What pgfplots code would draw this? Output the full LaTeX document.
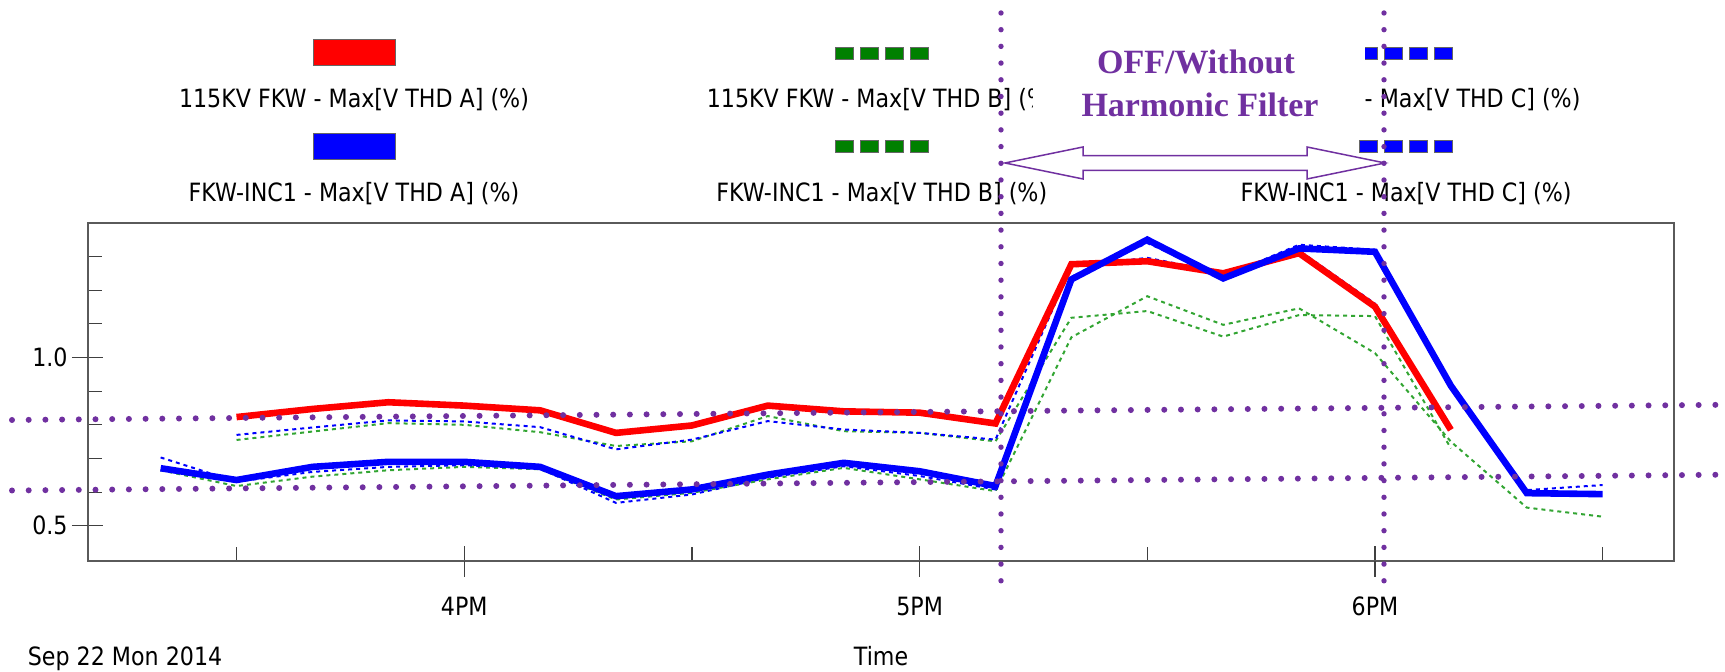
\documentclass[border=0pt]{standalone}
\usepackage{pgfplots}
\pgfplotsset{compat=1.18}
\usepackage{pgfplotstable}
\usepackage{fontspec}
\setmainfont{DejaVu Sans}[FakeStretch=0.88]
\newfontfamily\annfont{Liberation Serif}
\definecolor{annpurple}{RGB}{112,48,160}
\definecolor{dotgreen}{RGB}{50,165,50}
\definecolor{swgreen}{RGB}{0,128,0}
\definecolor{axgray}{RGB}{90,90,90}
\newcommand\lf{\fontsize{12.6}{15}\selectfont}

\pgfplotstableread{
t v
30 0.823
40 0.847
50 0.867
60 0.857
70 0.843
80 0.776
90 0.798
100 0.857
110 0.840
120 0.836
130 0.804
140 1.277
150 1.286
160 1.250
170 1.310
180 1.151
190 0.785
}\redA
\pgfplotstableread{
t v
20 0.671
30 0.636
40 0.675
50 0.690
60 0.690
70 0.675
80 0.588
90 0.608
100 0.652
110 0.687
120 0.662
130 0.618
140 1.232
150 1.350
160 1.235
170 1.324
180 1.314
190 0.916
200 0.597
210 0.594
}\blueA
\pgfplotstableread{
t v
30 0.755
40 0.780
50 0.805
60 0.800
70 0.778
80 0.737
90 0.751
100 0.826
110 0.781
120 0.776
130 0.751
140 1.118
150 1.138
160 1.062
170 1.126
180 1.123
190 0.730
}\kvB
\pgfplotstableread{
t v
20 0.665
30 0.618
40 0.646
50 0.665
60 0.675
70 0.668
80 0.578
90 0.598
100 0.638
110 0.672
120 0.638
130 0.603
140 1.060
150 1.182
160 1.097
170 1.146
180 1.013
190 0.750
200 0.554
210 0.527
}\incB
\pgfplotstableread{
t v
30 0.770
40 0.792
50 0.813
60 0.810
70 0.793
80 0.727
90 0.756
100 0.811
110 0.786
120 0.776
130 0.756
140 1.270
150 1.296
160 1.252
170 1.318
180 1.160
190 0.780
}\kvC
\pgfplotstableread{
t v
20 0.703
30 0.631
40 0.660
50 0.675
60 0.680
70 0.670
80 0.568
90 0.593
100 0.643
110 0.677
120 0.648
130 0.608
140 1.240
150 1.340
160 1.240
170 1.335
180 1.320
190 0.920
200 0.606
210 0.621
}\incC

\begin{document}
\begin{tikzpicture}
\path[use as bounding box] (0,0) rectangle (862.5pt,336pt);
\begin{axis}[
  at={(44pt,55.5pt)}, anchor=south west,
  scale only axis, width=793pt, height=169pt,
  xmin=10.43, xmax=219.4, ymin=0.3954, ymax=1.3996,
  xtick={60,120,180}, xticklabels={4PM,5PM,6PM},
  minor xtick={30,90,150,210},
  ytick={0.5,1.0}, yticklabels={0.5,1.0},
  minor ytick={0.6,0.7,0.8,0.9,1.1,1.2,1.3},
  xtick pos=lower, ytick pos=left,
  tick align=inside, major tick length=7.5pt, minor tick length=7pt,
  extra x ticks={60,120,180}, extra x tick labels={},
  extra y ticks={0.5,1.0}, extra y tick labels={},
  extra tick style={tick align=outside, major tick length=8pt},
  axis line style={axgray, line width=1.4pt},
  tick style={black!75, line width=0.6pt},
  xticklabel style={font=\lf, anchor=base, yshift=-27.5pt, inner sep=0pt},
  yticklabel style={font=\lf, anchor=east, xshift=-10pt, inner sep=0pt},
  xlabel={Time},
  xlabel style={at={(axis description cs:0.5,0)}, anchor=base, yshift=-52.5pt, font=\lf, inner sep=0pt},
]
\addplot[dotgreen, line width=1pt, dash pattern=on 2pt off 2pt] table[x=t,y=v] {\kvB};
\addplot[dotgreen, line width=1pt, dash pattern=on 2pt off 2pt] table[x=t,y=v] {\incB};
\addplot[blue, line width=1pt, dash pattern=on 2pt off 2pt] table[x=t,y=v] {\kvC};
\addplot[blue, line width=1pt, dash pattern=on 2pt off 2pt] table[x=t,y=v] {\incC};
\addplot[red, line width=3.3pt] table[x=t,y=v] {\redA};
\addplot[blue, line width=3.3pt] table[x=t,y=v] {\blueA};
\end{axis}

\node[anchor=base west, font=\lf, inner sep=0pt] at (13.75pt,3pt) {Sep 22 Mon 2014};

% legend
\draw[fill=red, draw=black!60, line width=0.5pt] (156.5pt,303pt) rectangle (197.5pt,316.4pt);
\draw[fill=blue, draw=black!60, line width=0.5pt] (156.5pt,256pt) rectangle (197.5pt,269.4pt);
\foreach \i in {0,1,2,3}{
  \draw[fill=swgreen, draw=black!60, line width=0.4pt] ({417.65pt+\i*12.5pt},306.35pt) rectangle ++(9pt,6pt);
  \draw[fill=swgreen, draw=black!60, line width=0.4pt] ({417.65pt+\i*12.5pt},259.65pt) rectangle ++(9pt,6pt);
  \draw[fill=blue, draw=black!60, line width=0.4pt] ({679.75pt+\i*12.5pt},306.35pt) rectangle ++(9pt,6pt);
  \draw[fill=blue, draw=black!60, line width=0.4pt] ({679.75pt+\i*12.5pt},259.65pt) rectangle ++(9pt,6pt);
}
\node[anchor=base, font=\lf, inner sep=0pt] at (177pt,282pt) {115KV FKW - Max[V THD A] (\%)};
\node[anchor=base, font=\lf, inner sep=0pt] at (177pt,235pt) {FKW-INC1 - Max[V THD A] (\%)};
\node[anchor=base, font=\lf, inner sep=0pt] at (440.9pt,282pt) {115KV FKW - Max[V THD B] (\%)};
\node[anchor=base, font=\lf, inner sep=0pt] at (440.9pt,235pt) {FKW-INC1 - Max[V THD B] (\%)};
\node[anchor=base east, font=\lf, inner sep=0pt] at (790.4pt,282pt) {- Max[V THD C] (\%)};
\node[anchor=base, font=\lf, inner sep=0pt] at (703pt,235pt) {FKW-INC1 - Max[V THD C] (\%)};

% annotation
\fill[white] (516.5pt,271pt) rectangle (682.5pt,321pt);
\node[anchor=base, inner sep=0pt, text=annpurple, font=\annfont\bfseries\fontsize{17}{20}\selectfont] at (598pt,299.3pt) {OFF/Without};
\node[anchor=base, inner sep=0pt, text=annpurple, font=\annfont\bfseries\fontsize{17}{20}\selectfont] at (600pt,277.7pt) {Harmonic Filter};
\draw[annpurple, line width=0.75pt, fill=white, line join=miter]
  (502.5pt,254.5pt) -- (541.5pt,262.5pt) -- (541.5pt,258.2pt) -- (653.5pt,258.2pt) -- (653.5pt,262.5pt)
  -- (692.5pt,254.5pt) -- (653.5pt,246.5pt) -- (653.5pt,250.8pt) -- (541.5pt,250.8pt) -- (541.5pt,246.5pt) -- cycle;

% purple dotted guide lines
\draw[annpurple, line width=3pt, line cap=round, dash pattern=on 0pt off 8.35pt] (6pt,126pt) -- (862pt,133.6pt);
\draw[annpurple, line width=3pt, line cap=round, dash pattern=on 0pt off 8.35pt] (6pt,90.75pt) -- (862pt,98.65pt);
\draw[annpurple, line width=2.7pt, line cap=round, dash pattern=on 0pt off 8.35pt] (500.5pt,329.5pt) -- (500.5pt,40pt);
\draw[annpurple, line width=2.7pt, line cap=round, dash pattern=on 0pt off 8.35pt] (692pt,329.5pt) -- (692pt,40pt);
\end{tikzpicture}
\end{document}
